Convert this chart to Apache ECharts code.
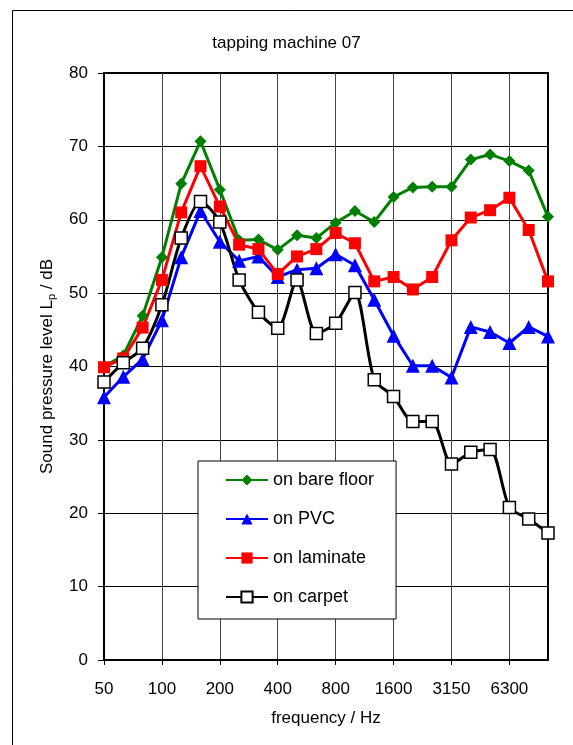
<!DOCTYPE html>
<html>
<head>
<meta charset="utf-8">
<script src="https://cdn.jsdelivr.net/npm/echarts@6/dist/echarts.min.js"></script>
<style>
  html, body { margin: 0; padding: 0; background: #fff; }
  #chart { width: 573px; height: 745px; }
</style>
</head>
<body>
<div id="chart"></div>
<script>
// third-octave band centre frequencies
const frequencies = ['50', '63', '80', '100', '125', '160', '200', '250', '315', '400', '500', '630',
  '800', '1000', '1250', '1600', '2000', '2500', '3150', '4000', '5000', '6300', '8000', '10000']

const bareFloor = [40.0, 41.5, 46.9, 54.9, 64.9, 70.7, 64.1, 57.2, 57.3, 55.9, 57.9, 57.5,
  59.6, 61.2, 59.7, 63.1, 64.4, 64.5, 64.5, 68.2, 68.9, 68.0, 66.7, 60.4]
const pvc = [35.8, 38.6, 41.0, 46.3, 54.9, 61.2, 57.0, 54.4, 55.0, 52.2, 53.2, 53.4,
  55.3, 53.8, 49.1, 44.2, 40.1, 40.1, 38.5, 45.4, 44.7, 43.2, 45.4, 44.1]
const laminate = [39.9, 41.1, 45.3, 51.8, 61.0, 67.3, 61.8, 56.6, 56.0, 52.6, 55.0, 56.0,
  58.2, 56.8, 51.6, 52.2, 50.5, 52.2, 57.2, 60.3, 61.3, 63.0, 58.6, 51.6]
const carpet = [37.9, 40.5, 42.5, 48.4, 57.5, 62.5, 59.7, 51.8, 47.4, 45.2, 51.8, 44.5,
  45.9, 50.1, 38.2, 35.9, 32.5, 32.5, 26.7, 28.3, 28.7, 20.8, 19.2, 17.3]

const font = 'Liberation Sans, Arial, sans-serif'

const chart = echarts.init(document.getElementById('chart'))

const mkSeries = (name, data, color, symbol, size, extra) => Object.assign({
  name: name,
  type: 'line',
  data: data,
  symbol: symbol,
  symbolSize: size,
  showAllSymbol: true,
  lineStyle: { color: color, width: 3 },
  itemStyle: { color: color },
  emphasis: { disabled: true }
}, extra || {})

chart.setOption({
  backgroundColor: '#fff',
  animation: false,
  title: {
    text: 'tapping machine 07',
    left: 'center',
    top: 30,
    textStyle: { fontFamily: font, fontSize: 17, fontWeight: 'normal', color: '#000' }
  },
  graphic: [{
    type: 'rect',
    shape: { x: 12.5, y: 10.5, width: 700, height: 800 },
    style: { fill: 'none', stroke: '#000', lineWidth: 1 },
    z: -1
  }],
  legend: {
    orient: 'vertical',
    left: 198,
    top: 461,
    padding: [10, 22, 13, 27],
    itemGap: 21,
    itemWidth: 42,
    itemHeight: 14,
    backgroundColor: '#fff',
    borderColor: '#000',
    borderWidth: 1,
    textStyle: { fontFamily: font, fontSize: 18, color: '#000' },
    data: ['on bare floor', 'on PVC', 'on laminate', 'on carpet']
  },
  grid: {
    left: 104,
    right: 25,
    top: 73,
    bottom: 85,
    show: true,
    borderColor: '#000',
    borderWidth: 2,
    containLabel: false
  },
  xAxis: {
    type: 'category',
    data: frequencies,
    boundaryGap: false,
    name: 'frequency / Hz',
    nameLocation: 'middle',
    nameGap: 50,
    nameTextStyle: { fontFamily: font, fontSize: 17, color: '#000' },
    axisLine: { lineStyle: { color: '#000', width: 2 } },
    axisTick: { interval: 2, length: 5, lineStyle: { color: '#000' } },
    axisLabel: { interval: 2, margin: 21, fontFamily: font, fontSize: 17, color: '#000' },
    splitLine: { show: true, interval: 2, lineStyle: { color: '#444', width: 1 } }
  },
  yAxis: {
    type: 'value',
    min: 0,
    max: 80,
    interval: 10,
    name: '{a|Sound pressure level L}{s|p}{a| / dB}',
    nameLocation: 'middle',
    nameGap: 47,
    nameTextStyle: {
      fontFamily: font,
      color: '#000',
      rich: {
        a: { fontFamily: font, fontSize: 17, color: '#000', lineHeight: 20 },
        s: { fontFamily: font, fontSize: 11, color: '#000', verticalAlign: 'bottom', lineHeight: 13 }
      }
    },
    axisLine: { show: true, lineStyle: { color: '#000', width: 2 } },
    axisTick: { show: true, length: 6, lineStyle: { color: '#000' } },
    axisLabel: { margin: 16, fontFamily: font, fontSize: 17, color: '#000' },
    splitLine: { show: true, lineStyle: { color: '#000', width: 1 } }
  },
  series: [
    mkSeries('on bare floor', bareFloor, '#008000', 'diamond', 12),
    mkSeries('on PVC', pvc, '#0000ff', 'triangle', 14),
    mkSeries('on laminate', laminate, '#ff0000', 'rect', 12),
    mkSeries('on carpet', carpet, '#000', 'rect', 12, {
      smooth: 0.25,
      itemStyle: { color: '#fff', borderColor: '#000', borderWidth: 1.5 }
    })
  ]
})
</script>
</body>
</html>
